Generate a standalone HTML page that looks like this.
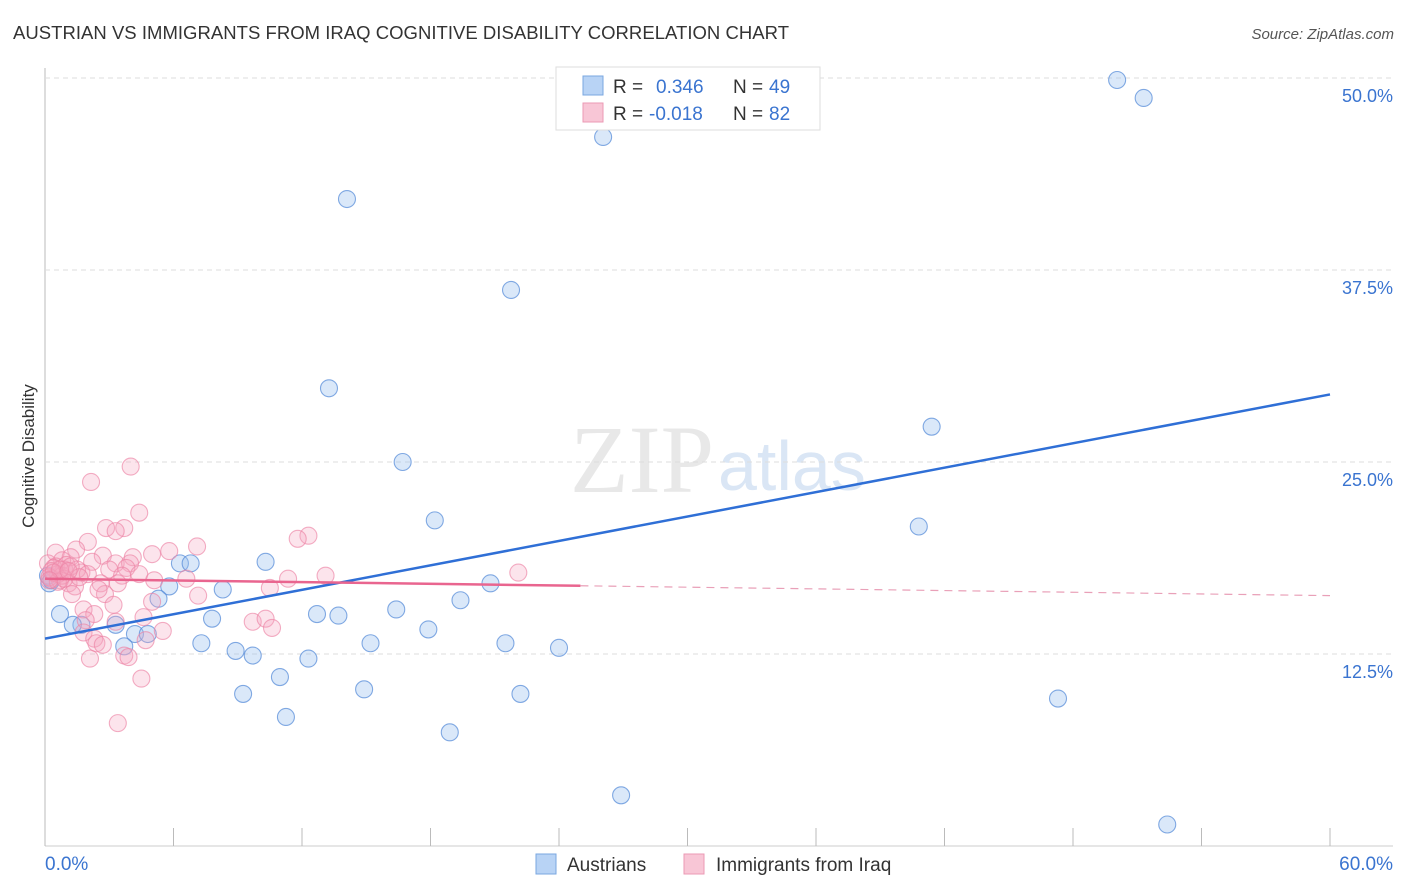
<!DOCTYPE html>
<html><head><meta charset="utf-8"><style>
body{margin:0;background:#fff;font-family:"Liberation Sans",sans-serif}
svg{display:block}
</style></head><body>
<svg id="c" width="1406" height="892">
<text x="13" y="39" font-size="18.5" fill="#333" textLength="776">AUSTRIAN VS IMMIGRANTS FROM IRAQ COGNITIVE DISABILITY CORRELATION CHART</text>
<text x="1394" y="39" font-size="15" fill="#555" font-style="italic" text-anchor="end">Source: ZipAtlas.com</text>
<text x="34" y="456" font-size="17" fill="#333" transform="rotate(-90 34 456)" text-anchor="middle">Cognitive Disability</text>
<text x="714" y="492" font-size="96" fill="#e8e8e8" font-family="Liberation Serif" text-anchor="end">ZIP</text>
<text x="718" y="490" font-size="70" fill="#dae6f5">atlas</text>
<g id="grid"></g><g id="pts"></g><g id="lines"></g>
<g>
<rect x="556" y="67" width="264" height="63" fill="#fff" stroke="#ddd"/>
<rect x="583" y="76" width="20" height="19" fill="#b8d3f5" stroke="#7aa7e0"/>
<rect x="583" y="103" width="20" height="19" fill="#f8c6d6" stroke="#eb9ab4"/>
<text x="613" y="93" font-size="19" fill="#333">R =</text>
<text x="656" y="93" font-size="19" fill="#3a74d0">0.346</text>
<text x="733" y="93" font-size="19" fill="#333">N =</text>
<text x="769" y="93" font-size="19" fill="#3a74d0">49</text>
<text x="613" y="120" font-size="19" fill="#333">R =</text>
<text x="649" y="120" font-size="19" fill="#3a74d0">-0.018</text>
<text x="733" y="120" font-size="19" fill="#333">N =</text>
<text x="769" y="120" font-size="19" fill="#3a74d0">82</text>
</g>
<g>
<rect x="536" y="854" width="20" height="20" fill="#b8d3f5" stroke="#7aa7e0"/>
<text x="567" y="871" font-size="19" fill="#333">Austrians</text>
<rect x="684" y="854" width="20" height="20" fill="#f8c6d6" stroke="#eb9ab4"/>
<text x="716" y="871" font-size="19" fill="#333">Immigrants from Iraq</text>
</g>
<text x="45" y="870" font-size="19" fill="#3a74d0">0.0%</text>
<text x="1393" y="870" font-size="19" fill="#3a74d0" text-anchor="end">60.0%</text>
</svg>
<script>
const yTicks=[12.5,25,37.5,50];
const yTickLabels=["12.5%","25.0%","37.5%","50.0%"];
const xTicks=[0,6,12,18,24,30,36,42,48,54,60];
const blueX=[50.06,51.3,26.06,14.1,21.76,13.26,41.4,16.7,18.2,40.8,10.3,6.3,6.8,20.8,5.8,8.3,5.3,19.4,0.7,16.4,12.7,13.7,7.8,1.7,1.3,3.3,17.9,4.2,4.8,7.3,15.2,21.5,24.0,8.9,3.7,9.7,12.3,10.97,9.25,14.9,22.2,47.3,11.25,18.9,26.9,52.4,0.2,0.14,0.3];
const blueY=[49.87,48.7,46.16,42.12,36.2,29.8,27.3,25.0,21.2,20.8,18.5,18.4,18.4,17.1,16.9,16.7,16.1,16.0,15.1,15.4,15.1,15.0,14.8,14.4,14.4,14.4,14.1,13.8,13.8,13.2,13.2,13.2,12.9,12.7,13.0,12.4,12.2,11.0,9.9,10.2,9.9,9.6,8.4,7.4,3.3,1.4,17.1,17.6,17.3];
const pinkX=[4.0,2.15,4.4,2.85,3.7,3.3,12.3,11.8,2.0,7.1,5.8,5.0,1.45,0.5,2.7,4.1,1.2,0.8,3.3,2.2,3.97,0.14,0.5,0.9,3.8,3.0,22.1,1.7,4.4,3.6,11.35,13.1,6.6,0.3,0.7,1.1,2.6,3.4,5.1,1.4,10.5,2.8,1.26,2.5,7.15,5.0,3.2,1.8,4.6,9.7,10.3,2.3,1.9,3.3,10.6,5.5,1.8,2.3,4.7,2.4,2.7,2.1,3.7,3.9,4.5,3.4,0.4,0.6,0.2,0.8,1.0,0.3,1.5,0.6,2.0,0.9,1.2,0.4,0.7,1.6,0.2,1.1];
const pinkY=[24.7,23.7,21.7,20.7,20.7,20.5,20.2,20.0,19.8,19.5,19.2,19.0,19.3,19.1,18.9,18.8,18.8,18.6,18.4,18.5,18.4,18.4,18.2,18.0,18.1,18.0,17.8,17.8,17.7,17.6,17.4,17.6,17.4,17.4,17.3,17.1,17.1,17.1,17.3,16.9,16.8,16.4,16.4,16.7,16.3,15.9,15.7,15.4,14.9,14.6,14.8,15.1,14.7,14.6,14.2,14.0,13.9,13.5,13.4,13.2,13.1,12.2,12.4,12.3,10.9,8.0,18.1,17.7,17.5,17.6,18.3,17.9,18.0,17.2,17.7,17.4,18.2,17.8,18.0,17.5,17.3,17.9];
const blueTrend=[13.5,29.4];
const pinkTrend=[17.4,16.3];
const pinkSolidEnd=25;
const X=v=>45+v/60*1285, Y=v=>846-v/12.5*192;
const NS="http://www.w3.org/2000/svg";
function mk(t,a,p){const e=document.createElementNS(NS,t);for(const k in a)e.setAttribute(k,a[k]);p.appendChild(e);return e;}
const grid=document.getElementById('grid'),pts=document.getElementById('pts'),lines=document.getElementById('lines');
mk('line',{x1:45,y1:68,x2:45,y2:846,stroke:'#bbb'},grid);
mk('line',{x1:45,y1:846,x2:1393,y2:846,stroke:'#ccc'},grid);
yTicks.forEach((v,i)=>{
 const g=mk('line',{x1:45,y1:Y(v),x2:1393,y2:Y(v),stroke:'#ddd','stroke-dasharray':'5,4'},grid);
 
 
 const t=mk('text',{x:1393,y:Y(v)+24,'font-size':18,fill:'#3a74d0','text-anchor':'end'},grid);
 t.textContent=yTickLabels[i];
 
 
});
xTicks.forEach(v=>{
 const l=mk('line',{x1:X(v),y1:828,x2:X(v),y2:846,stroke:'#bbb'},grid);
 
 
});
blueX.forEach((v,i)=>{
 const c=mk('circle',{cx:X(v),cy:Y(blueY[i]),r:8.5,fill:'rgba(150,190,238,0.35)',stroke:'rgba(80,135,215,0.7)','stroke-width':1.1},pts);
 
 
});
pinkX.forEach((v,i)=>{
 const c=mk('circle',{cx:X(v),cy:Y(pinkY[i]),r:8.5,fill:'rgba(245,165,192,0.3)',stroke:'rgba(236,130,165,0.65)','stroke-width':1.1},pts);
 
 
});
const bl=mk('line',{x1:X(0),y1:Y(blueTrend[0]),x2:X(60),y2:Y(blueTrend[1]),stroke:'#2f6fd6','stroke-width':2.5},lines);


const pv=x=>pinkTrend[0]+(pinkTrend[1]-pinkTrend[0])*x/60;
const pl=mk('line',{x1:X(0),y1:Y(pv(0)),x2:X(pinkSolidEnd),y2:Y(pv(pinkSolidEnd)),stroke:'#e9658f','stroke-width':2.5},lines);


const pd=mk('line',{x1:X(pinkSolidEnd),y1:Y(pv(pinkSolidEnd)),x2:X(60),y2:Y(pv(60)),stroke:'#e9a0b8','stroke-width':1.2,'stroke-dasharray':'8,6'},lines);


</script>
</body></html>
